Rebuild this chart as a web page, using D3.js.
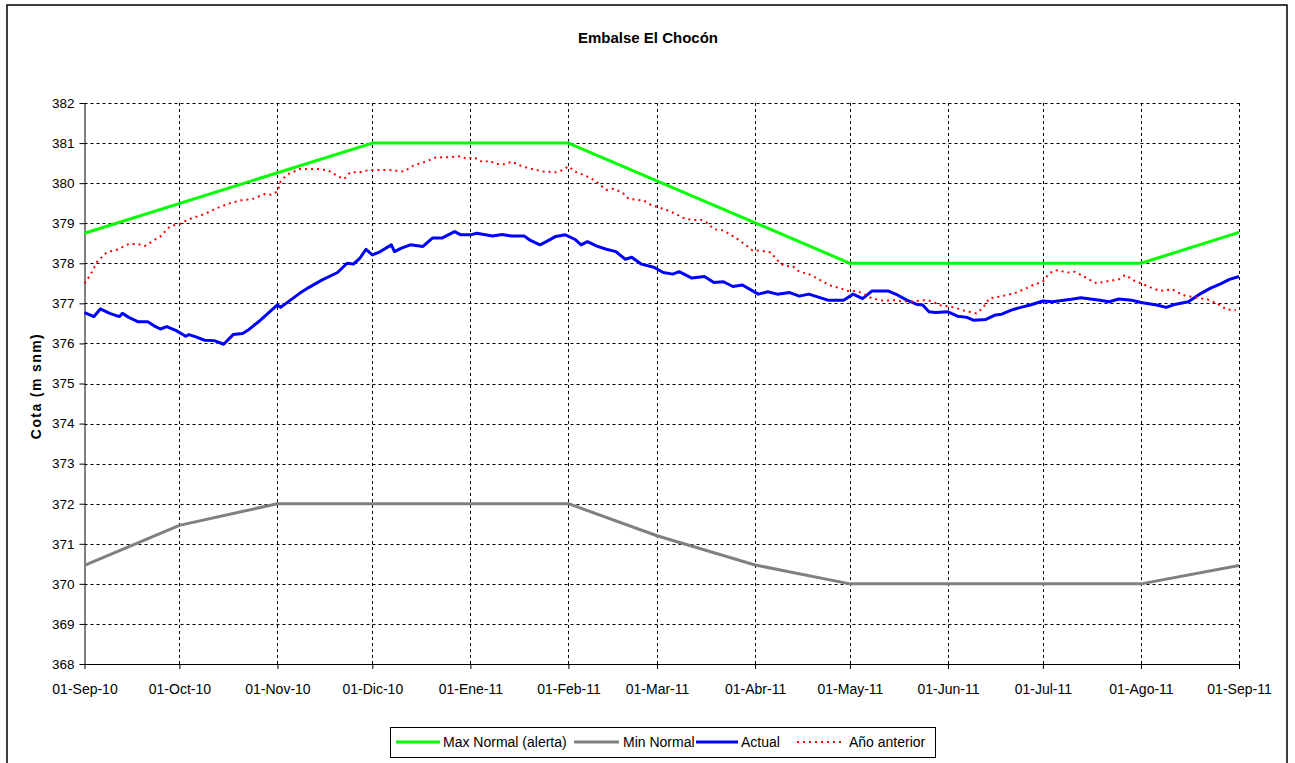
<!DOCTYPE html>
<html><head><meta charset="utf-8">
<script src="https://cdn.jsdelivr.net/npm/d3@7"></script>
<style>
html,body{margin:0;padding:0;background:#fff;}
svg{display:block;font-family:"Liberation Sans",Arial,sans-serif;}
</style></head>
<body>
<svg id="chart" width="1295" height="763"></svg>
<script>
// ---- data (day offsets from 01-Sep-2010, level in m s n m) ----
const startDate = new Date(2010, 8, 1);
const xTickLabels = ["01-Sep-10","01-Oct-10","01-Nov-10","01-Dic-10","01-Ene-11","01-Feb-11","01-Mar-11","01-Abr-11","01-May-11","01-Jun-11","01-Jul-11","01-Ago-11","01-Sep-11"];
const yTicks = [368,369,370,371,372,373,374,375,376,377,378,379,380,381,382];
const seriesNames = ["Max Normal (alerta)","Min Normal","Actual","Año anterior"];

const maxDays = [0, 91, 153, 242, 334, 365];
const maxVals = [378.75, 381, 381, 378, 378, 378.77];

const minDays = [0, 30, 61, 153, 181, 212, 242, 334, 365];
const minVals = [370.46, 371.46, 372, 372, 371.2, 370.47, 370, 370, 370.46];

const actualDays = [0,3,5,8,11,12,14,17,20,22,24,26,29,32,33,35,38,41,44,47,50,52,55,58,61,62,68,71,75,80,83,85,87,89,91,93,97,98,100,103,107,110,113,117,119,122,124,129,132,135,139,141,144,146,149,152,155,157,159,162,165,168,171,173,176,180,183,186,188,192,196,199,202,205,208,213,216,219,223,226,229,235,240,243,246,249,254,257,260,263,265,267,269,273,276,279,281,285,288,290,293,296,299,303,306,312,315,321,324,327,331,334,339,342,345,349,353,356,359,362,365];
const actualVals = [376.77,376.67,376.86,376.75,376.67,376.75,376.65,376.54,376.54,376.44,376.36,376.42,376.32,376.18,376.22,376.17,376.08,376.07,375.98,376.22,376.25,376.35,376.54,376.75,376.96,376.9,377.25,377.4,377.58,377.77,378.0,377.98,378.12,378.35,378.21,378.27,378.46,378.29,378.37,378.46,378.42,378.63,378.63,378.79,378.71,378.71,378.75,378.68,378.72,378.68,378.68,378.57,378.46,378.54,378.67,378.71,378.6,378.46,378.54,378.43,378.35,378.29,378.1,378.15,377.98,377.9,377.77,377.73,377.79,377.63,377.67,377.52,377.54,377.42,377.46,377.23,377.29,377.23,377.27,377.18,377.23,377.08,377.08,377.23,377.12,377.31,377.31,377.21,377.08,376.98,376.96,376.79,376.77,376.79,376.68,376.65,376.58,376.6,376.71,376.73,376.83,376.9,376.96,377.06,377.04,377.1,377.14,377.08,377.04,377.11,377.08,377.02,376.96,376.9,376.98,377.04,377.25,377.38,377.48,377.6,377.67];

const prevDays = [0,2,4,7,10,14,17,19,24,27,30,33,38,42,46,50,53,57,59,61,62,64,68,71,74,77,80,82,84,87,90,96,101,104,108,111,116,119,121,123,126,128,130,133,135,138,141,145,149,151,153,155,157,160,162,165,167,170,172,177,179,184,187,189,192,195,197,199,202,206,209,211,214,217,219,221,224,226,229,231,234,236,239,241,244,246,249,253,256,258,261,265,268,270,275,278,282,284,286,290,294,297,300,303,305,307,311,313,315,318,320,324,327,329,332,334,337,340,344,347,351,355,358,361,364];
const prevVals = [377.5,377.73,378.04,378.27,378.33,378.48,378.48,378.43,378.67,378.92,378.98,379.1,379.23,379.38,379.5,379.58,379.6,379.73,379.71,379.79,380.04,380.21,380.35,380.35,380.35,380.32,380.18,380.1,380.27,380.27,380.33,380.33,380.29,380.44,380.54,380.64,380.65,380.67,380.6,380.65,380.52,380.56,380.48,380.47,380.54,380.43,380.36,380.29,380.27,380.32,380.42,380.29,380.23,380.13,380.02,379.83,379.86,379.77,379.61,379.56,379.46,379.33,379.23,379.14,379.08,379.08,379.0,378.85,378.82,378.63,378.46,378.33,378.31,378.27,378.08,377.94,377.92,377.79,377.73,377.65,377.52,377.44,377.38,377.31,377.31,377.25,377.12,377.06,377.08,377.06,377.04,377.08,377.06,376.96,376.9,376.82,376.75,376.88,377.12,377.18,377.25,377.35,377.46,377.54,377.75,377.83,377.77,377.79,377.71,377.58,377.5,377.56,377.6,377.71,377.56,377.5,377.4,377.31,377.35,377.21,377.15,377.1,377.0,376.85,376.83];

// ---- helpers ----
const toPts = (days, vals) => days.map((d, i) => ({date: d3.timeDay.offset(startDate, d), v: vals[i]}));
const series = [
  {name: seriesNames[0], pts: toPts(maxDays, maxVals), color: "#00ff00", width: 3, dash: null},
  {name: seriesNames[1], pts: toPts(minDays, minVals), color: "#808080", width: 3, dash: null},
  {name: seriesNames[2], pts: toPts(actualDays, actualVals), color: "#0000ff", width: 3, dash: null},
  {name: seriesNames[3], pts: toPts(prevDays, prevVals), color: "#ff0000", width: 2, dash: "2,4"}
];

const svg = d3.select("#chart");
const L = 84.5, R = 1239, T = 103, B = 664;

// outer border
svg.append("rect").attr("x", 7).attr("y", 5).attr("width", 1280).attr("height", 770)
  .attr("fill", "none").attr("stroke", "#000").attr("stroke-width", 1.5);

const x = d3.scaleTime().domain([startDate, new Date(2011, 8, 1)]).range([L, R]);
const y = d3.scaleLinear().domain([368, 382]).range([B, T]);

const monthTicks = d3.timeMonth.range(startDate, new Date(2011, 8, 2));

// gridlines
const grid = svg.append("g").attr("stroke", "#000").attr("stroke-width", 1).attr("stroke-dasharray", "3,3");
grid.selectAll("line.h").data(yTicks.filter(v => v > 368)).join("line")
  .attr("x1", L).attr("x2", R).attr("y1", d => Math.round(y(d)) + 0.5).attr("y2", d => Math.round(y(d)) + 0.5);
grid.selectAll("line.v").data(monthTicks.slice(1)).join("line")
  .attr("x1", d => Math.round(x(d)) + 0.5).attr("x2", d => Math.round(x(d)) + 0.5).attr("y1", T).attr("y2", B);

// axes
const xAxis = d3.axisBottom(x).tickValues(monthTicks).tickSize(5).tickSizeOuter(0)
  .tickFormat((d, i) => xTickLabels[i]);
const gx = svg.append("g").attr("transform", `translate(0,${B})`).call(xAxis);
gx.select(".domain").attr("stroke", "#000");
gx.selectAll("text").attr("font-size", 14).attr("fill", "#000").attr("dy", "1.6em")
  .attr("font-family", "Liberation Sans, Arial, sans-serif");

const yAxis = d3.axisLeft(y).tickValues(yTicks).tickSize(5).tickSizeOuter(0).tickFormat(d3.format("d"));
const gy = svg.append("g").attr("transform", `translate(${L},0)`).call(yAxis);
gy.select(".domain").attr("stroke", "#000");
gy.selectAll("text").attr("font-size", 13.5).attr("fill", "#000").attr("x", -10)
  .attr("font-family", "Liberation Sans, Arial, sans-serif");

// lines
const line = d3.line().x(d => x(d.date)).y(d => y(d.v));
series.forEach(s => {
  svg.append("path").datum(s.pts).attr("d", line).attr("fill", "none")
    .attr("stroke", s.color).attr("stroke-width", s.width)
    .attr("stroke-dasharray", s.dash).attr("stroke-linejoin", "round");
});

// title
svg.append("text").attr("x", 648).attr("y", 43).attr("text-anchor", "middle")
  .attr("font-weight", "bold").attr("font-size", 15).text("Embalse El Chocón");

// y axis title
svg.append("text").attr("transform", `translate(41,386) rotate(-90)`)
  .attr("text-anchor", "middle").attr("font-weight", "bold").attr("font-size", 14)
  .attr("letter-spacing", 1.4)
  .text("Cota (m snm)");

// legend
const lg = svg.append("g");
lg.append("rect").attr("x", 390.5).attr("y", 727.5).attr("width", 545).attr("height", 30)
  .attr("fill", "#fff").attr("stroke", "#000").attr("stroke-width", 1);
const legendPos = [
  {lx1: 396, lx2: 440, tx: 443},
  {lx1: 574, lx2: 619, tx: 623},
  {lx1: 696, lx2: 738, tx: 741},
  {lx1: 797, lx2: 845, tx: 849}
];
series.forEach((s, i) => {
  const p = legendPos[i];
  lg.append("line").attr("x1", p.lx1).attr("x2", p.lx2).attr("y1", 742).attr("y2", 742)
    .attr("stroke", s.color).attr("stroke-width", s.width).attr("stroke-dasharray", s.dash);
  lg.append("text").attr("x", p.tx).attr("y", 747).attr("font-size", 14).text(s.name);
});
</script>
</body></html>
